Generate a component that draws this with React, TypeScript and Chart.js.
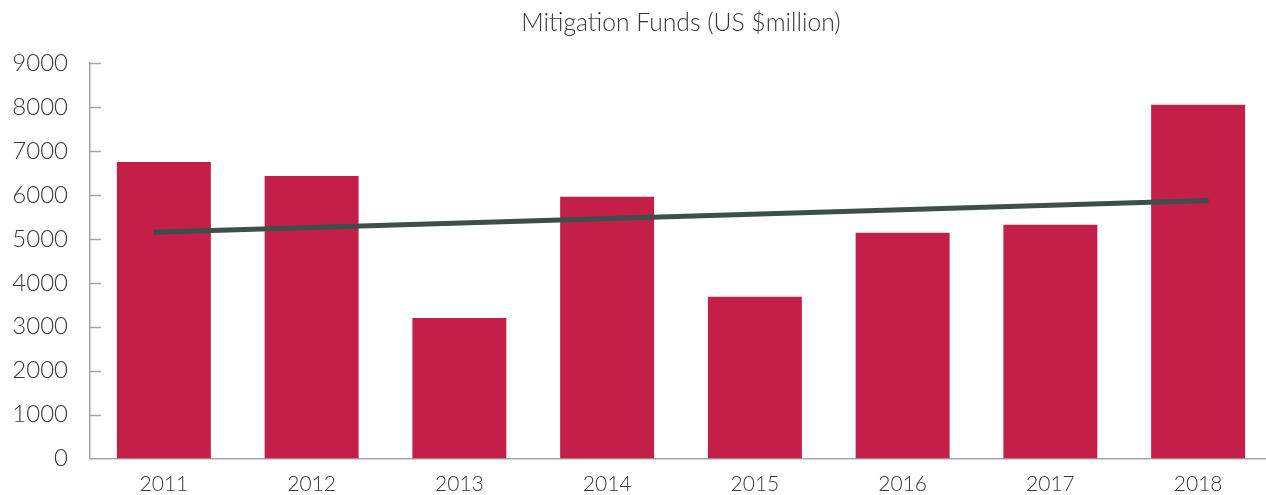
import React, { useEffect, useRef } from 'react';
import { Chart, registerables } from 'chart.js';

Chart.register(...registerables);

const TITLE = 'Mitigation Funds (US $million)';
const YEARS = ['2011', '2012', '2013', '2014', '2015', '2016', '2017', '2018'];
const FUNDS = [6750, 6430, 3200, 5960, 3680, 5140, 5320, 8050];
const TREND_X = [-0.07, 7.07];
const TREND_Y = [5150, 5872];
const Y_MIN = 0;
const Y_MAX = 9000;
const Y_STEP = 1000;

const FONT = 'Lato, "Open Sans", "Noto Sans", sans-serif';
const TEXT_COLOR = '#383838';
const AXIS_COLOR = '#a6a6a6';

const inwardTicks = {
  id: 'inwardTicks',
  afterDraw(chart: any) {
    const y = chart.scales.y;
    const ctx = chart.ctx;
    const x0 = chart.chartArea.left;
    ctx.save();
    ctx.strokeStyle = AXIS_COLOR;
    ctx.lineWidth = 1.5;
    for (const t of y.ticks) {
      if (t.value === Y_MIN) continue;
      const py = Math.round(y.getPixelForValue(t.value)) + 0.5;
      ctx.beginPath();
      ctx.moveTo(x0, py);
      ctx.lineTo(x0 + 11, py);
      ctx.stroke();
    }
    ctx.restore();
  },
};

export default function App() {
  const ref = useRef<HTMLCanvasElement | null>(null);

  useEffect(() => {
    if (!ref.current) return;
    const chart = new Chart(ref.current, {
      type: 'bar',
      data: {
        datasets: [
          {
            type: 'bar',
            label: 'Funds',
            data: FUNDS.map((v, i) => ({ x: i, y: v })),
            backgroundColor: '#c41f48',
            borderWidth: 0,
            categoryPercentage: 1,
            barPercentage: 0.636,
            order: 2,
          } as any,
          {
            type: 'line',
            label: 'Trend',
            data: TREND_X.map((x, i) => ({ x, y: TREND_Y[i] })),
            borderColor: '#3a5048',
            borderWidth: 5,
            borderCapStyle: 'butt',
            pointRadius: 0,
            fill: false,
            tension: 0,
            order: 1,
          } as any,
        ],
      },
      options: {
        animation: false,
        responsive: true,
        maintainAspectRatio: false,
        layout: { padding: { left: 0, right: 0, top: 0, bottom: 0 } },
        plugins: {
          legend: { display: false },
          tooltip: { enabled: false },
          title: {
            display: true,
            text: TITLE,
            fullSize: false,
            color: TEXT_COLOR,
            font: { family: FONT, size: 24.7, weight: '300' as any, lineHeight: 1.2 },
            padding: { top: 8, bottom: 25.4 },
          },
        },
        scales: {
          x: {
            type: 'linear',
            min: -0.5,
            max: YEARS.length - 0.5,
            offset: false,
            grid: { display: false, drawTicks: false, offset: false },
            border: { display: true, color: AXIS_COLOR, width: 1.5 },
            afterBuildTicks(scale: any) {
              scale.ticks = YEARS.map((_, i) => ({ value: i }));
            },
            ticks: {
              color: TEXT_COLOR,
              font: { family: FONT, size: 21, weight: '300' as any },
              padding: 13,
              maxRotation: 0,
              autoSkip: false,
              callback: (v: any) => YEARS[Math.round(Number(v))] ?? '',
            },
            afterFit(scale: any) {
              scale.height = 33;
            },
          },
          y: {
            type: 'linear',
            min: Y_MIN,
            max: Y_MAX,
            grid: { display: false, drawTicks: false },
            border: { display: true, color: AXIS_COLOR, width: 1.5 },
            ticks: {
              stepSize: Y_STEP,
              color: TEXT_COLOR,
              font: { family: FONT, size: 24, weight: '300' as any },
              padding: 22,
              callback: (v: any) => String(v),
            },
            afterFit(scale: any) {
              scale.width = 90;
            },
          },
        },
      },
      plugins: [inwardTicks],
    });
    return () => chart.destroy();
  }, []);

  return (
    <div
      style={{
        position: 'fixed',
        left: 0,
        top: 0,
        width: 1266,
        height: 495,
        overflow: 'hidden',
        background: '#ffffff',
      }}
    >
      <div style={{ position: 'relative', width: 1272, height: 495 }}>
        <canvas ref={ref} />
      </div>
    </div>
  );
}
